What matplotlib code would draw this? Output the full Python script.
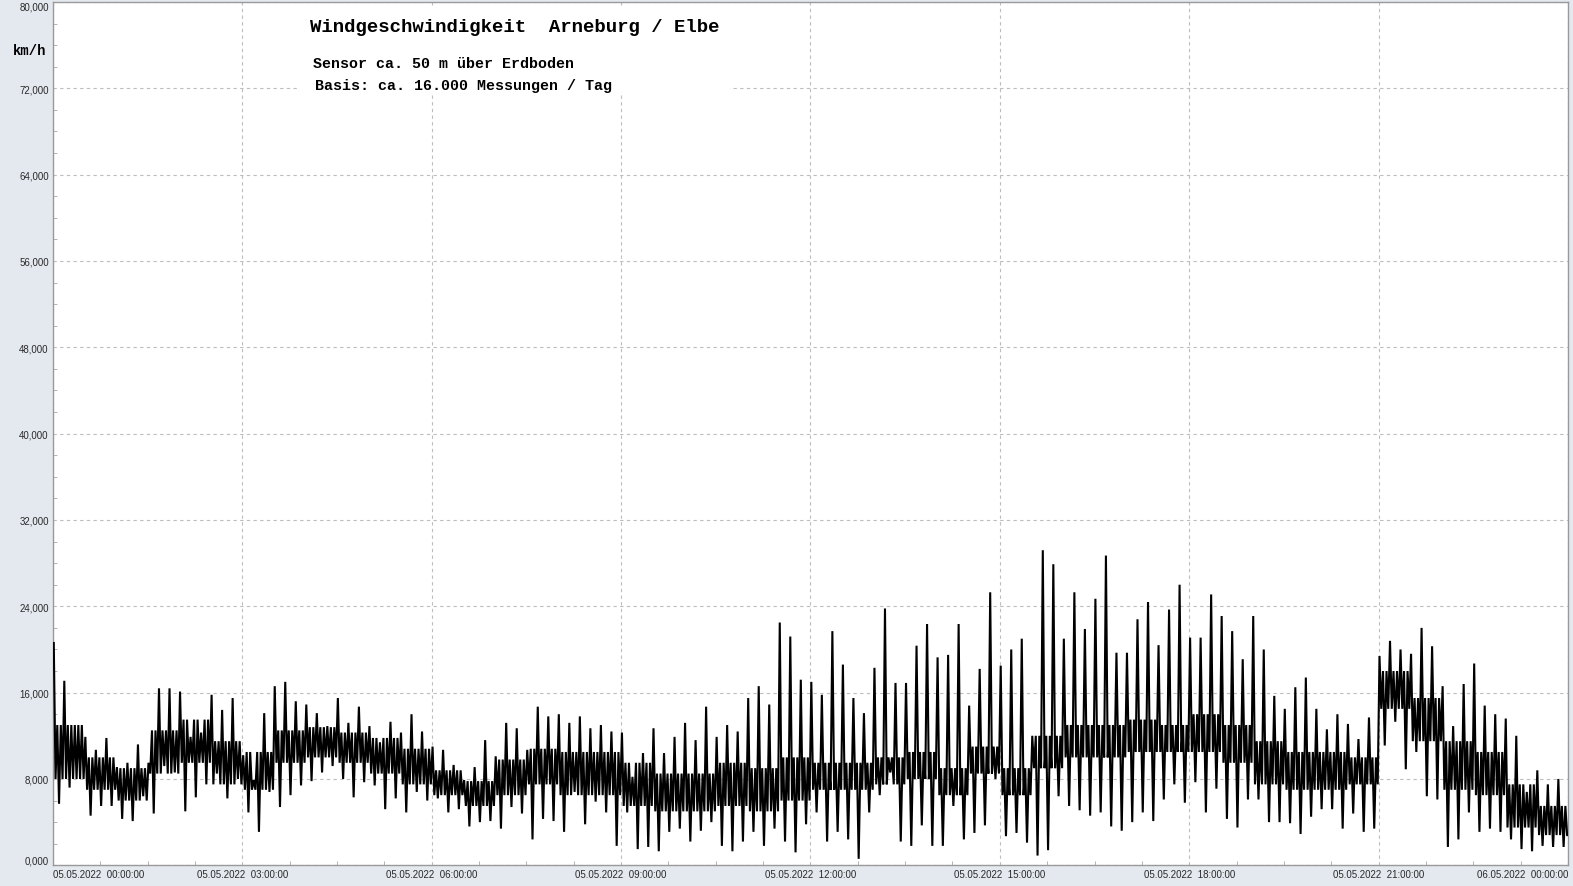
import matplotlib
matplotlib.use('Agg')
import matplotlib.pyplot as plt
from matplotlib.patches import Rectangle
from matplotlib.ticker import MultipleLocator
import numpy as np

# 10-minute bins over 05.05.2022, highest and lowest reading per bin (km/h)
wind_hi = [20600, 17100, 13000, 11900, 10700, 11800, 9100, 9500, 11200, 9500,
           16400, 16400, 16100, 11900, 12300, 15800, 14400, 15500, 10200, 7900,
           14100, 16600, 17000, 15200, 14900, 14100, 12900, 15500, 13200, 14700,
           12900, 11400, 13300, 12300, 14000, 12400, 11000, 10700, 9300, 7900,
           9100, 11600, 10100, 13200, 12700, 10700, 14700, 13800, 14000, 13200,
           13800, 12700, 13000, 12400, 12300, 8200, 10400, 12700, 10400, 11900,
           13200, 11600, 14700, 11900, 13000, 12400, 15500, 16600, 14900, 22500,
           21200, 17200, 17000, 15800, 21700, 18600, 15500, 14100, 18300, 23800,
           16900, 16900, 20350, 22360, 19270, 19500, 22360, 14800, 18200, 25300,
           18500, 20000, 21000, 12000, 29200, 27900, 21000, 25300, 21900, 24700,
           28700, 19700, 19700, 22800, 24400, 20400, 23700, 26000, 21100, 21100,
           25100, 23100, 21700, 19100, 23100, 20000, 15700, 14500, 16500, 17400,
           14500, 12600, 14000, 13100, 11700, 13700, 19400, 20800, 20000, 19600,
           22000, 20300, 16600, 12900, 16800, 18700, 14800, 14000, 13600, 12000,
           6800, 8800, 7500, 8000]
wind_lo = [5700, 7200, 8000, 4600, 5500, 5500, 4300, 4100, 6400, 4800,
           9200, 8600, 5000, 6300, 7500, 8500, 6200, 8000, 4900, 3100,
           6800, 5400, 6500, 7400, 7800, 8600, 9200, 8000, 6300, 7700,
           7400, 5200, 6200, 4900, 6800, 6000, 6200, 4900, 5200, 3600,
           4000, 4100, 3400, 5400, 4800, 2400, 4300, 4100, 3100, 6800,
           3800, 5900, 4900, 1800, 4900, 1500, 1700, 1300, 3100, 3400,
           2200, 3200, 4000, 1800, 1300, 2200, 3100, 1800, 3400, 2200,
           1200, 3800, 4900, 2200, 3100, 2400, 600, 4900, 6500, 8600,
           2200, 1800, 3700, 1800, 1800, 5500, 2400, 3000, 3700, 8000,
           2700, 3000, 2100, 900, 1400, 6400, 5500, 5100, 4600, 4900,
           3600, 3200, 4000, 4900, 4100, 6100, 7500, 5800, 7700, 4900,
           7100, 4300, 3500, 6100, 6100, 4000, 4000, 3900, 2900, 4500,
           5200, 5200, 3400, 4800, 3100, 3400, 11100, 13300, 8900, 10500,
           6400, 6100, 1700, 2400, 4900, 3100, 3400, 3100, 2400, 1500,
           1300, 1800, 1700, 1700]

# dense core of the readings, per half hour (km/h)
core_hi = [13000, 10000, 9000, 12500, 13500, 11500, 10500, 12500, 12800, 12300,
           11800, 10800, 8800, 7800, 9800, 10800, 10500, 10500, 9500, 8500,
           8500, 9500, 9000, 10000, 9500, 9500, 10000, 10500, 9000, 11000,
           9000, 12000, 13000, 13000, 13500, 13000, 14000, 13000, 11500, 10500,
           10500, 10000, 18000, 15500, 11500, 10500, 7500, 5500]
core_lo = [8000, 7000, 6000, 8500, 9500, 7500, 7000, 9500, 10000, 9500,
           8500, 7500, 6500, 5500, 6500, 7500, 6500, 6500, 5500, 5000,
           5000, 5500, 5000, 6000, 7000, 7000, 7500, 8000, 6500, 8500,
           6500, 9000, 10000, 10000, 10500, 10500, 10500, 9500, 7500, 7000,
           7000, 7500, 14500, 11500, 7000, 6500, 3500, 2800]

x_hours = [0, 3, 6, 9, 12, 15, 18, 21, 24]
x_labels = ['05.05.2022  00:00:00', '05.05.2022  03:00:00', '05.05.2022  06:00:00',
            '05.05.2022  09:00:00', '05.05.2022  12:00:00', '05.05.2022  15:00:00',
            '05.05.2022  18:00:00', '05.05.2022  21:00:00', '06.05.2022  00:00:00']
y_ticks = [0, 8000, 16000, 24000, 32000, 40000, 48000, 56000, 64000, 72000, 80000]

W, H = 1573, 887
bg = '#e4e8ef'
fig = plt.figure(figsize=(W / 100, H / 100), dpi=100, facecolor=bg)
ax = fig.add_axes([52.9 / W, 1 - 866.3 / H, (1568 - 52.9) / W, (866.3 - 3) / H])

# each 10-minute bin: high, core low, core high, low, core high, core low
n = len(wind_hi)
chi = np.repeat(core_hi, 3)[:n]
clo = np.repeat(core_lo, 3)[:n]
offs = (np.arange(6) + 0.5) / 6.0
t = (np.repeat(np.arange(n), 6) + np.tile(offs, n)) / 6.0
v = np.column_stack([wind_hi, clo, chi, wind_lo, chi, clo]).ravel()
ax.plot(t, v, color='black', lw=1.5, zorder=3, solid_joinstyle='miter')

ax.set_xlim(0, 24)
ax.set_ylim(0, 80000)
ax.set_xticks(x_hours)
ax.set_xticklabels(x_labels)
ax.xaxis.set_minor_locator(MultipleLocator(0.75))
ax.set_yticks(y_ticks)
ax.set_yticklabels([f'{y / 1000:.3f}'.replace('.', ',') for y in y_ticks])
ax.yaxis.set_minor_locator(MultipleLocator(2000))

ax.grid(True, which='major', color='#bdbdbd', lw=0.8, linestyle=(0, (3, 3)))
ax.tick_params(which='both', direction='in', color='#a8a8a8', labelsize=7,
               labelcolor='#2a2a2a', labelfontfamily='Liberation Sans')
ax.tick_params(which='major', length=0, pad=3)
ax.tick_params(which='minor', length=3)
for s in ax.spines.values():
    s.set_color('#9a9a9a')
    s.set_linewidth(1.0)

xl = ax.get_xticklabels()
xl[0].set_ha('left')
xl[-1].set_ha('right')
yl = ax.get_yticklabels()
yl[0].set_va('bottom')
yl[-1].set_va('top')

# white box behind the heading
fig.add_artist(Rectangle((300 / W, 1 - 93 / H), 430 / W, 85 / H,
                         transform=fig.transFigure, facecolor='white',
                         edgecolor='none', zorder=5))

mono = 'Liberation Mono'
fig.text(310 / W, 1 - 27 / H, 'Windgeschwindigkeit  Arneburg / Elbe', family=mono,
         weight='bold', fontsize=13.7, va='center', ha='left', zorder=6)
fig.text(313 / W, 1 - 64 / H, 'Sensor ca. 50 m über Erdboden', family=mono,
         weight='bold', fontsize=10.8, va='center', ha='left', zorder=6)
fig.text(315 / W, 1 - 86 / H, 'Basis: ca. 16.000 Messungen / Tag', family=mono,
         weight='bold', fontsize=10.8, va='center', ha='left', zorder=6)
fig.text(30 / W, 1 - 51 / H, 'km/h', family=mono, weight='bold', fontsize=10,
         va='center', ha='center')

fig.savefig('out.png', dpi=100, facecolor=bg)
